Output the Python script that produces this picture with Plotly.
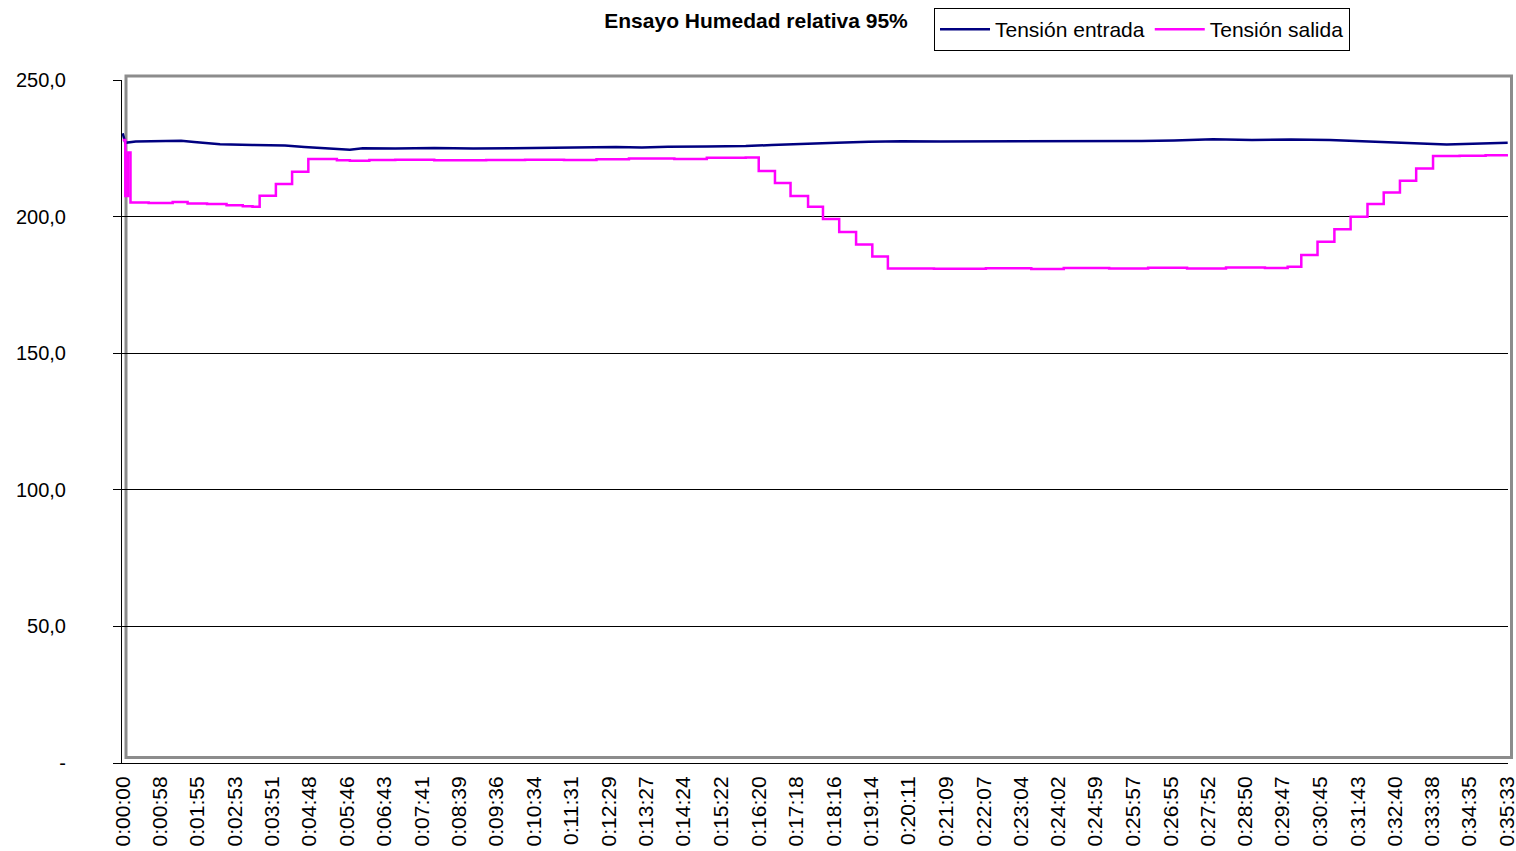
import plotly.graph_objects as go

# ---- tick labels (time axis) ----
tick_labels = ["0:00:00", "0:00:58", "0:01:55", "0:02:53", "0:03:51", "0:04:48", "0:05:46",
               "0:06:43", "0:07:41", "0:08:39", "0:09:36", "0:10:34", "0:11:31", "0:12:29",
               "0:13:27", "0:14:24", "0:15:22", "0:16:20", "0:17:18", "0:18:16", "0:19:14",
               "0:20:11", "0:21:09", "0:22:07", "0:23:04", "0:24:02", "0:24:59", "0:25:57",
               "0:26:55", "0:27:52", "0:28:50", "0:29:47", "0:30:45", "0:31:43", "0:32:40",
               "0:33:38", "0:34:35", "0:35:33"]

y_tick_vals = [0, 50, 100, 150, 200, 250]
y_tick_text = ["-", "50,0", "100,0", "150,0", "200,0", "250,0"]

# ---- Tensión entrada (seconds, volts) ----
entrada_t = [0, 4, 20, 60, 90, 110, 150, 200, 250, 280, 300, 330, 350, 370, 420, 480, 540,
             600, 650, 700, 760, 800, 840, 900, 960, 1000, 1060, 1100, 1150, 1200, 1260,
             1350, 1420, 1500, 1570, 1620, 1680, 1740, 1800, 1860, 1920, 1960, 2000, 2040,
             2080, 2134]
entrada_v = [230.5, 227.0, 227.5, 227.6, 227.8, 227.3, 226.5, 226.2, 226.0, 225.5, 225.2,
             225.0, 224.5, 225.0, 224.9, 225.1, 224.9, 225.0, 225.1, 225.3, 225.5, 225.3,
             225.6, 225.7, 225.8, 226.2, 226.8, 227.0, 227.4, 227.6, 227.5, 227.6, 227.4,
             227.6, 227.7, 227.9, 228.3, 228.0, 228.2, 228.0, 227.6, 227.1, 226.8, 226.4,
             226.6, 227.0]

# ---- Tensión salida (seconds, volts), stepped ----
salida_t = [0, 4, 8, 12, 40, 77, 100, 130, 160, 185, 200, 211, 236, 261, 286, 330, 350, 380,
            420, 480, 560, 620, 680, 730, 780, 850, 900, 960, 980, 1005, 1029, 1056, 1079,
            1104, 1130, 1155, 1179, 1250, 1330, 1400, 1450, 1520, 1580, 1640, 1700, 1760,
            1795, 1816, 1841, 1867, 1892, 1918, 1943, 1968, 1993, 2019, 2060, 2100, 2134]
salida_v = [228.0, 207.5, 223.5, 205.2, 205.0, 205.3, 204.8, 204.6, 204.2, 203.8, 203.6,
            207.6, 211.9, 216.4, 221.1, 220.6, 220.4, 220.7, 220.8, 220.6, 220.7, 220.8,
            220.7, 221.0, 221.3, 221.1, 221.5, 221.6, 216.7, 212.3, 207.5, 203.6, 199.1,
            194.4, 189.8, 185.4, 181.0, 180.9, 181.1, 180.8, 181.2, 181.0, 181.3, 181.0,
            181.4, 181.2, 181.6, 185.9, 190.8, 195.4, 199.9, 204.6, 208.8, 213.1, 217.6,
            222.2, 222.3, 222.5, 222.8]


def to_sec(s):
    h, m, sec = s.split(":")
    return int(h) * 3600 + int(m) * 60 + int(sec)


tick_secs = [to_sec(s) for s in tick_labels]
FONT = "Arial, 'Liberation Sans', sans-serif"
XR = [-1.1, 2134.5]

# page body margin is removed by the post script, so the figure fills the window
W, H = 1516, 851
ML, MR, MT, MB = 122, 1516 - 1508, 80, 851 - 763
PW, PH = W - ML - MR, H - MT - MB


def px(xr):
    return (xr - 122) / PW


def py(yr):
    return (763 - yr) / PH


fig = go.Figure()
fig.add_trace(go.Scatter(x=entrada_t, y=entrada_v, mode="lines", name="Tensión entrada",
                         line=dict(color="#000080", width=2.5)))
fig.add_trace(go.Scatter(x=salida_t, y=salida_v, mode="lines", name="Tensión salida",
                         line=dict(color="#FF00FF", width=2.5, shape="hv")))

fig.update_layout(
    width=W, height=H,
    margin=dict(l=ML, r=MR, t=MT, b=MB, autoexpand=False),
    paper_bgcolor="white", plot_bgcolor="white",
    font=dict(family=FONT, size=20, color="black"),
    title=dict(text="Ensayo Humedad relativa 95%", x=px(756), xref="paper",
               xanchor="center", y=1 - 21 / H, yref="container", yanchor="middle",
               font=dict(family=FONT, size=21, color="black", weight="bold")),
    showlegend=True,
    legend=dict(orientation="h", x=px(934), xanchor="left", xref="paper",
                y=1 - 8 / H, yref="container", yanchor="top",
                bordercolor="black", borderwidth=1,
                bgcolor="white", font=dict(family=FONT, size=21, color="black"),
                itemwidth=50),
    xaxis=dict(range=XR, tickmode="array", tickvals=tick_secs, ticktext=tick_labels,
               tickangle=-90, ticks="", showgrid=False, zeroline=False, automargin=False,
               showline=True, linecolor="black", linewidth=1, ticklabeloverflow="allow",
               tickfont=dict(family=FONT, size=21, color="black"),
               ticklabelstandoff=4),
    xaxis2=dict(range=XR, overlaying="x", anchor="y", side="bottom", automargin=False,
                tickmode="linear", tick0=0, dtick=54.94, ticks="outside", ticklen=5,
                tickcolor="black", tickwidth=1, showticklabels=False, showgrid=False,
                zeroline=False, showline=False),
    yaxis=dict(range=[0, 250], tickmode="array", tickvals=y_tick_vals, ticktext=y_tick_text,
               showgrid=True, gridcolor="black", gridwidth=1, zeroline=False, automargin=False,
               showline=True, linecolor="black", linewidth=1,
               ticks="outside", ticklen=8, tickcolor="black",
               tickfont=dict(family=FONT, size=20, color="black"),
               ticklabelstandoff=43),
    shapes=[dict(type="rect", xref="paper", yref="paper",
                 x0=px(126), x1=px(1511.5), y0=py(757.5), y1=py(76),
                 line=dict(color="#8c8c8c", width=3), layer="below")],
)

fig.write_html("out.html",
               config={"displayModeBar": False},
               post_script="document.body.style.margin='0';"
                           "document.body.style.overflow='hidden';")
